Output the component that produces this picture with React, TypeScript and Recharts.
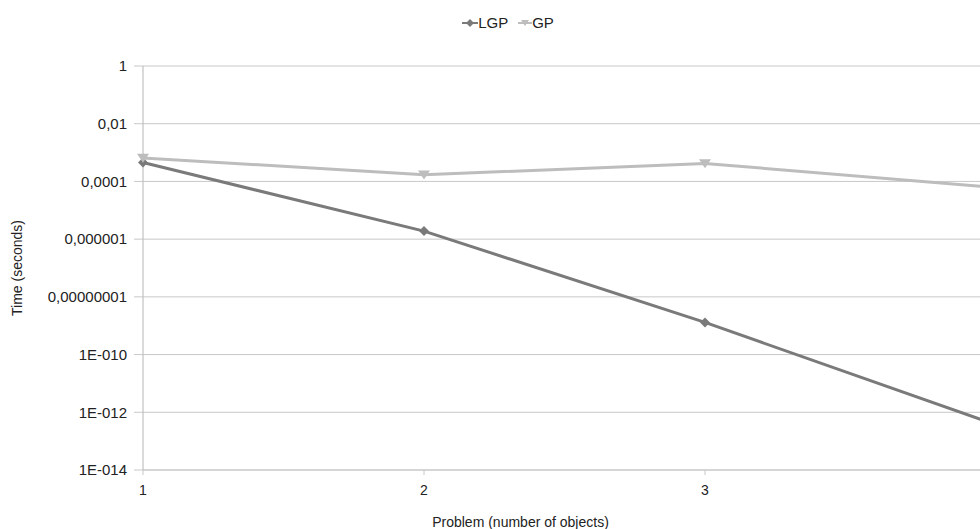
import React from "react";
import { LineChart, Line, XAxis, YAxis, CartesianGrid, Label } from "recharts";

const problems = [1, 2, 3, 4];
const lgpTimes = [4.5e-4, 1.9e-6, 1.3e-9, 4.9e-13];
const gpTimes = [6.5e-4, 1.7e-4, 4.2e-4, 6.5e-5];
const yTicks = [1, 1e-2, 1e-4, 1e-6, 1e-8, 1e-10, 1e-12, 1e-14];
const yTickLabels = ["1", "0,01", "0,0001", "0,000001", "0,00000001", "1E-010", "1E-012", "1E-014"];
const seriesNames = ["LGP", "GP"];

const data = problems.map((p, i) => ({ problem: p, LGP: lgpTimes[i], GP: gpTimes[i] }));

const LGP_COLOR = "#7a7a7a";
const GP_COLOR = "#bdbdbd";
const FONT = "'Liberation Sans', Arial, sans-serif";

const Diamond = (props: any) => {
  const { cx, cy } = props;
  if (cx == null || cy == null) return null;
  const r = 5;
  return <path d={`M${cx},${cy - r}L${cx + r},${cy}L${cx},${cy + r}L${cx - r},${cy}Z`} fill={LGP_COLOR} />;
};

const TriDown = (props: any) => {
  const { cx, cy } = props;
  if (cx == null || cy == null) return null;
  const r = 6;
  return <path d={`M${cx - r},${cy - r * 0.7}L${cx + r},${cy - r * 0.7}L${cx},${cy + r * 0.8}Z`} fill={GP_COLOR} />;
};

const LegendBlock = () => (
  <div
    style={{
      position: "absolute",
      top: 14,
      left: 0,
      width: 1016,
      display: "flex",
      justifyContent: "center",
      alignItems: "center",
      fontFamily: FONT,
      fontSize: 15,
      color: "#222",
      lineHeight: "18px",
    }}
  >
    <svg width={16} height={10} style={{ marginRight: 0 }}>
      <line x1={0} y1={5} x2={16} y2={5} stroke={LGP_COLOR} strokeWidth={2} />
      <path d="M8,1L12,5L8,9L4,5Z" fill={LGP_COLOR} />
    </svg>
    <span style={{ marginRight: 10 }}>{seriesNames[0]}</span>
    <svg width={14} height={10} style={{ marginRight: 0 }}>
      <line x1={0} y1={5} x2={14} y2={5} stroke={GP_COLOR} strokeWidth={2} />
      <path d="M3,2L11,2L7,8Z" fill={GP_COLOR} />
    </svg>
    <span>{seriesNames[1]}</span>
  </div>
);

export default function App() {
  return (
    <div style={{ position: "absolute", left: 0, top: 0, width: 980, height: 529, overflow: "hidden", background: "#fff" }}>
      <LegendBlock />
      <LineChart width={1100} height={529} data={data} margin={{ top: 66, right: 114, bottom: 19, left: 0 }}>
        <CartesianGrid vertical={false} stroke="#c8c8c8" />
        <XAxis
          dataKey="problem"
          type="number"
          domain={[1, 4]}
          ticks={problems}
          height={40}
          tickSize={5}
          tickMargin={10}
          axisLine={{ stroke: "#c8c8c8" }}
          tickLine={{ stroke: "#c8c8c8" }}
          tick={{ fill: "#222", fontSize: 14, fontFamily: FONT }}
        >
          <Label value="Problem (number of objects)" position="insideBottom" offset={-17} dx={-44} fill="#222" fontSize={14} fontFamily={FONT} />
        </XAxis>
        <YAxis
          scale="log"
          domain={[1e-14, 1]}
          ticks={yTicks}
          allowDataOverflow
          width={143}
          tickSize={9}
          tickMargin={7}
          tickFormatter={(v: number) => yTickLabels[yTicks.findIndex((t) => Math.abs(Math.log10(t) - Math.log10(v)) < 0.01)] ?? ""}
          axisLine={{ stroke: "#b5b5b5" }}
          tickLine={{ stroke: "#c8c8c8" }}
          tick={{ fill: "#222", fontSize: 15, fontFamily: FONT }}
        >
          <Label value="Time (seconds)" angle={-90} position="insideLeft" offset={17} fill="#222" fontSize={14} fontFamily={FONT} style={{ textAnchor: "middle" }} />
        </YAxis>
        <Line dataKey="LGP" name={seriesNames[0]} stroke={LGP_COLOR} strokeWidth={3} dot={<Diamond />} isAnimationActive={false} />
        <Line dataKey="GP" name={seriesNames[1]} stroke={GP_COLOR} strokeWidth={3} dot={<TriDown />} isAnimationActive={false} />
      </LineChart>
    </div>
  );
}
